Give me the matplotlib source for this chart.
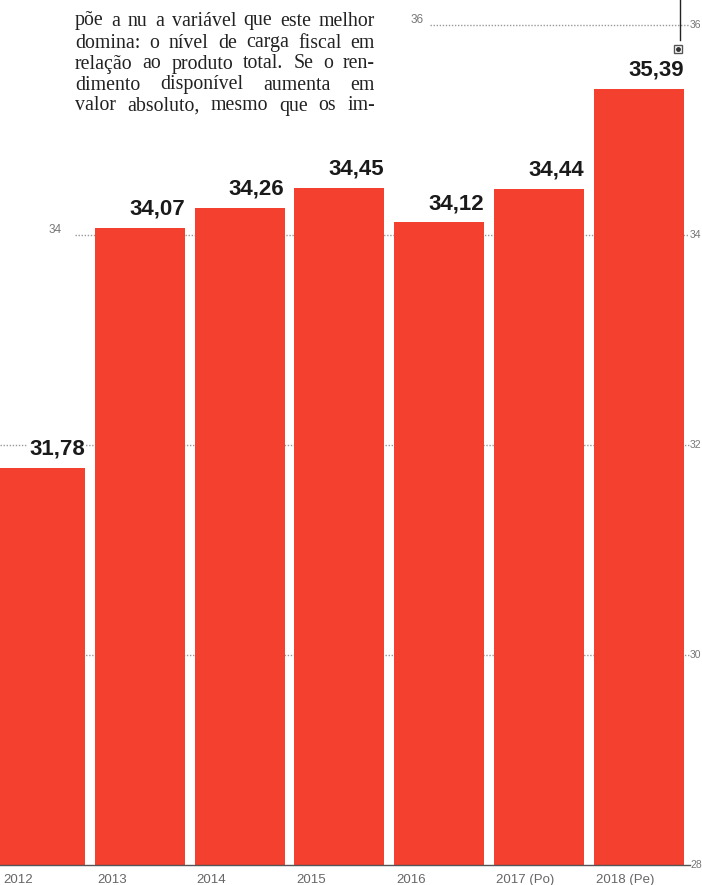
import matplotlib
matplotlib.use("Agg")
import matplotlib.pyplot as plt

# data
years = ['2012', '2013', '2014', '2015', '2016', '2017 (Po)', '2018 (Pe)']
values = [31.78, 34.07, 34.26, 34.45, 34.12, 34.44, 35.39]
grid_values = [36, 34, 32, 30]
paragraph = [
    "põe a nu a variável que este melhor",
    "domina: o nível de carga fiscal em",
    "relação ao produto total. Se o ren-",
    "dimento disponível aumenta em",
    "valor absoluto, mesmo que os im-",
]

W, H = 702, 885
fig = plt.figure(figsize=(W / 100, H / 100), dpi=100)
ax = fig.add_axes([0, 0, 1, 1])
ax.set_axis_off()

# pixel <-> data helpers (bar spacing ~100 px, 105 px per unit on y)
step = 99.8
x0 = 40.0
def px2x(px):
    return (px - x0) / step
def py2y(py):
    return 28 + (865 - py) / 105.0

ax.set_xlim(px2x(0), px2x(W))
ax.set_ylim(py2y(H), py2y(0))

red = '#f4412f'
pos = list(range(len(years)))
bw = 0.9
ax.bar(pos, [v - 28 for v in values], bottom=28, width=bw, color=red,
       zorder=2, linewidth=0)

# gridlines
grid_start = {36: 430, 34: 75, 32: 0, 30: 0}
for g in grid_values:
    ax.plot([px2x(grid_start[g]), px2x(689)], [g, g], color='#999999',
            lw=1.0, ls=(0, (1, 1.2)), zorder=1)
ax.plot([px2x(0), px2x(690)], [28, 28], color='#555555', lw=1.0, zorder=3)

# right tick labels
for g in grid_values + [28]:
    ax.text(px2x(690), g, str(g), fontsize=7.5, color='#777777',
            family='Liberation Sans', va='center', ha='left', zorder=4)
# left tick labels
ax.text(px2x(411), 36.05, '36', fontsize=8.5, color='#777777',
        family='Liberation Sans', va='center', ha='left')
ax.text(px2x(49), 34.05, '34', fontsize=8.5, color='#777777',
        family='Liberation Sans', va='center', ha='left')

# value labels, right aligned to bar edge
for p, v in zip(pos, values):
    lab = f"{v:.2f}".replace('.', ',')
    t = ax.text(p + bw / 2, v + 0.08, lab, fontsize=16, fontweight='bold',
                family='Liberation Sans', color='#1a1a1a', ha='right',
                va='bottom', zorder=5)
    if p == 0:
        t.set_bbox(dict(facecolor='white', edgecolor='none', pad=0.5))

# year labels, left aligned to bar edge (first one kept inside the page)
for p, y in zip(pos, years):
    xl = max(p - bw / 2 + 0.02, px2x(3))
    ax.text(xl, py2y(880), y, fontsize=9.5, color='#666666',
            family='Liberation Sans', ha='left', va='center')

# highlight line at the top right
ax.plot([px2x(680), px2x(680)], [py2y(0), py2y(40)], color='#222222', lw=1.0)
ax.plot([px2x(678)], [py2y(49)], marker='s', ms=6, mfc='none', mec='#555555',
        mew=1.0, ls='none')
ax.plot([px2x(678)], [py2y(49)], marker='o', ms=2.5, color='#333333', ls='none')

# justified paragraph
fig.canvas.draw()
renderer = fig.canvas.get_renderer()
left, right = 75, 375
line_y = [21, 43, 64, 85, 106]
for line, py in zip(paragraph, line_y):
    words = line.split(' ')
    texts = [fig.text(0, 1 - py / H, w, fontsize=14.3, family='Liberation Serif',
                      color='#222222', va='center', ha='left') for w in words]
    widths = [t.get_window_extent(renderer).width for t in texts]
    gap = (right - left - sum(widths)) / max(len(words) - 1, 1)
    x = left
    for t, w in zip(texts, widths):
        t.set_x(x / W)
        x += w + gap

fig.savefig('out.png', dpi=100, facecolor='white')
